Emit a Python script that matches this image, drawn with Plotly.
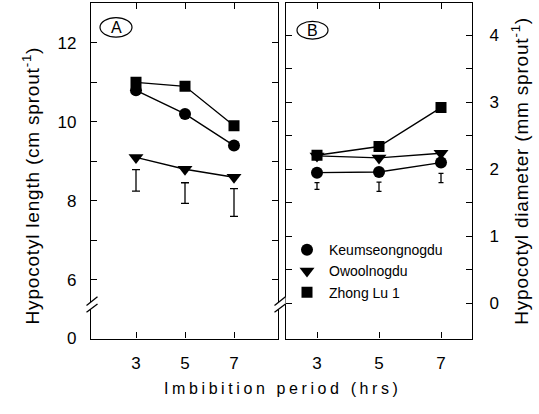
import plotly.graph_objects as go

W, H = 539, 414

# ---------------- data ----------------
periods = [3, 5, 7]
cultivars = ["Keumseongnogdu", "Owoolnogdu", "Zhong Lu 1"]
symbols = ["circle", "triangle-down", "square"]
marker_sizes = [12, 13, 11]

# Panel A: hypocotyl length (cm sprout-1)
length_keum = [10.8, 10.2, 9.4]
length_owool = [9.1, 8.8, 8.6]
length_zhong = [11.0, 10.9, 9.9]
length_err_center = [8.52, 8.20, 7.96]
length_err_half = [0.27, 0.26, 0.35]

# Panel B: hypocotyl diameter (mm sprout-1)
diam_keum = [1.95, 1.96, 2.10]
diam_owool = [2.20, 2.17, 2.24]
diam_zhong = [2.21, 2.34, 2.92]
diam_err_center = [1.75, 1.74, 1.87]
diam_err_half = [0.05, 0.07, 0.07]

# axis ticks
len_tickvals = [4.52, 6, 8, 10, 12]
len_ticktext = ["0", "6", "8", "10", "12"]
len_minor = [7, 9, 11]
dia_tickvals = [0, 1, 2, 3, 4]
dia_ticktext = ["0", "1", "2", "3", "4"]
dia_minor = [0.5, 1.5, 2.5, 3.5]

# ---------------- helpers ----------------
def X(px):
    return px / W

def Y(py):
    return 1 - py / H

FONT = "Liberation Sans, Arial, sans-serif"

fig = go.Figure()

seriesA = [length_keum, length_owool, length_zhong]
seriesB = [diam_keum, diam_owool, diam_zhong]

for vals, sym, ms in zip(seriesA, symbols, marker_sizes):
    fig.add_trace(go.Scatter(
        x=periods, y=vals, mode="lines+markers", xaxis="x", yaxis="y",
        line=dict(color="black", width=1.4),
        marker=dict(symbol=sym, size=ms, color="black"),
        showlegend=False))

fig.add_trace(go.Scatter(
    x=periods, y=length_err_center, mode="markers", xaxis="x", yaxis="y",
    marker=dict(size=1, color="rgba(0,0,0,0)"),
    error_y=dict(type="data", array=length_err_half, color="black",
                 thickness=1.3, width=4),
    showlegend=False))

for vals, sym, ms in zip(seriesB, symbols, marker_sizes):
    fig.add_trace(go.Scatter(
        x=periods, y=vals, mode="lines+markers", xaxis="x2", yaxis="y2",
        line=dict(color="black", width=1.4),
        marker=dict(symbol=sym, size=ms, color="black"),
        showlegend=False))

fig.add_trace(go.Scatter(
    x=periods, y=diam_err_center, mode="markers", xaxis="x2", yaxis="y2",
    marker=dict(size=1, color="rgba(0,0,0,0)"),
    error_y=dict(type="data", array=diam_err_half, color="black",
                 thickness=1.3, width=2.5),
    showlegend=False))

# legend entries (markers only)
for name, sym, ms in zip(cultivars, symbols, marker_sizes):
    fig.add_trace(go.Scatter(
        x=[None], y=[None], mode="markers", xaxis="x2", yaxis="y2",
        marker=dict(symbol=sym, size=ms, color="black"),
        name=name, showlegend=True))

axis_common = dict(
    showgrid=False, zeroline=False, showline=True, linecolor="black",
    linewidth=1.4, mirror="allticks", ticks="inside", ticklen=6,
    tickwidth=1.2, tickcolor="black",
    tickfont=dict(family=FONT, size=17, color="black"))

minor_style = dict(ticks="inside", ticklen=6, tickwidth=1.2,
                   tickcolor="black", showgrid=False, tickmode="array")

fig.update_layout(
    width=W, height=H, autosize=False,
    margin=dict(l=0, r=0, t=0, b=0),
    paper_bgcolor="white", plot_bgcolor="white",
    xaxis=dict(domain=[X(91), X(278)], range=[1.163, 8.796],
               tickvals=periods, anchor="y", ticklabelstandoff=9,
               **axis_common),
    yaxis=dict(domain=[Y(347), Y(3)], range=[4.515, 13.01],
               tickvals=len_tickvals, ticktext=len_ticktext, anchor="x",
               ticklabelstandoff=10,
               minor=dict(tickvals=len_minor, **minor_style),
               **axis_common),
    xaxis2=dict(domain=[X(286), X(472)], range=[2.0, 8.0],
                tickvals=periods, anchor="y2", ticklabelstandoff=9,
                **axis_common),
    yaxis2=dict(domain=[Y(347), Y(3)], range=[-0.524, 4.48],
                tickvals=dia_tickvals, ticktext=dia_ticktext, anchor="x2",
                side="right", ticklabelstandoff=13,
                minor=dict(tickvals=dia_minor, **minor_style),
                **axis_common),
    legend=dict(x=X(285), y=Y(240), xanchor="left", yanchor="top",
                bgcolor="rgba(0,0,0,0)", itemwidth=34,
                font=dict(family=FONT, size=14, color="black"),
                itemsizing="trace", tracegroupgap=0),
)

annotations = [
    dict(text='<span style="letter-spacing:0.8px">Hypocotyl length (cm sprout<sup>-1</sup>)</span>',
         x=X(31), y=Y(190), textangle=-90,
         font=dict(family=FONT, size=19, color="black")),
    dict(text='<span style="letter-spacing:0.8px">Hypocotyl diameter (mm sprout<sup>-1</sup>)</span>',
         x=X(520), y=Y(175), textangle=-90,
         font=dict(family=FONT, size=19, color="black")),
    dict(text='<span style="letter-spacing:3.6px">Imbibition period (hrs)</span>',
         x=X(283), y=Y(398),
         font=dict(family=FONT, size=16, color="black")),
    dict(text="A", x=X(116), y=Y(28),
         font=dict(family=FONT, size=16, color="black")),
    dict(text="B", x=X(312.5), y=Y(31),
         font=dict(family=FONT, size=16, color="black")),
]
for a in annotations:
    a.update(xref="paper", yref="paper", showarrow=False,
             xanchor="center", yanchor="middle")
fig.update_layout(annotations=annotations)

shapes = [
    dict(type="circle", xref="paper", yref="paper",
         x0=X(100), x1=X(132), y0=Y(38), y1=Y(18),
         line=dict(color="black", width=1.2)),
    dict(type="circle", xref="paper", yref="paper",
         x0=X(297), x1=X(328), y0=Y(40), y1=Y(22),
         line=dict(color="black", width=1.2)),
]

# axis-break marks on the length axis (left and right edges of panel A)
for xc in (91.5, 279.5):
    x0, x1 = xc - 5, xc + 6
    path_gap = (f"M {X(x0)},{Y(313)} L {X(x1)},{Y(304)} "
                f"L {X(x1)},{Y(311.5)} L {X(x0)},{Y(320)} Z")
    shapes.append(dict(type="path", xref="paper", yref="paper",
                       path=path_gap, fillcolor="white",
                       line=dict(width=0), layer="above"))
    shapes.append(dict(type="line", xref="paper", yref="paper",
                       x0=X(x0), y0=Y(313), x1=X(x1), y1=Y(304),
                       line=dict(color="black", width=1.3)))
    shapes.append(dict(type="line", xref="paper", yref="paper",
                       x0=X(x0), y0=Y(320), x1=X(x1), y1=Y(311.5),
                       line=dict(color="black", width=1.3)))

fig.update_layout(shapes=shapes)

post = (
    "document.documentElement.style.margin='0';"
    "document.documentElement.style.padding='0';"
    "document.documentElement.style.overflow='hidden';"
    "document.documentElement.style.height='414px';"
    "document.body.style.margin='0';"
    "document.body.style.padding='0';"
    "document.body.style.overflow='hidden';"
    "document.body.style.height='414px';"
)

fig.write_html("out.html",
               config={"responsive": False, "displayModeBar": False},
               post_script=post)
